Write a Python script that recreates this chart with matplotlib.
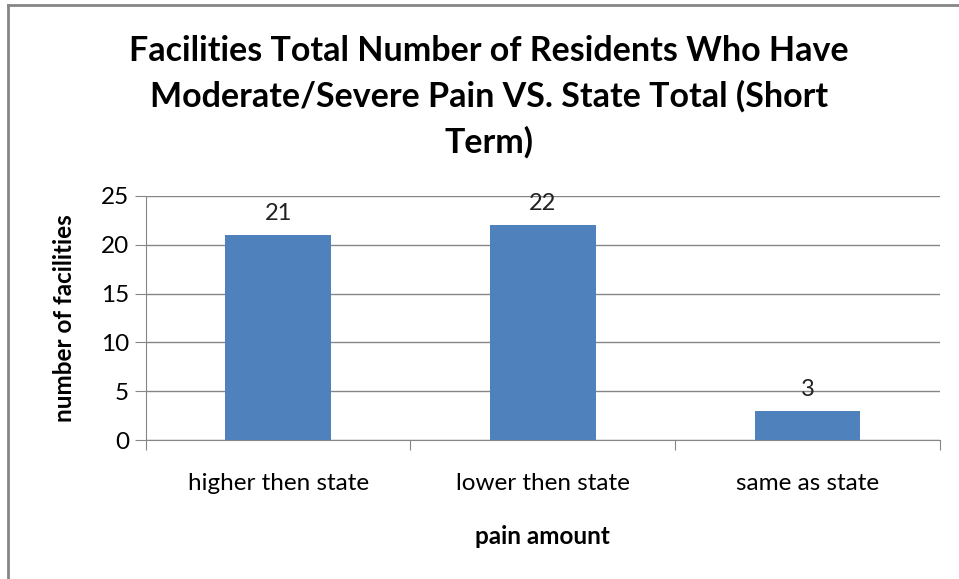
import matplotlib.pyplot as plt
from matplotlib.lines import Line2D

plt.rcParams['font.family'] = ['Lato', 'DejaVu Sans']

categories = ['higher then state', 'lower then state', 'same as state']
counts = [21, 22, 3]
yticks = [0, 5, 10, 15, 20, 25]

fig = plt.figure(figsize=(9.59, 5.79), dpi=100)
ax = fig.add_axes([0.152, 0.240, 0.828, 0.4215])

x = range(len(categories))
ax.bar(x, counts, width=0.4, color='#4F81BD', zorder=3)

# data labels above each bar
for i, v in enumerate(counts):
    ax.annotate(str(v), (i, v), xytext=(0, 8), textcoords='offset points',
                ha='center', va='bottom', fontsize=17, color='#222222')

ax.set_xlim(-0.5, 2.5)
ax.set_ylim(0, 25)
ax.set_yticks(yticks)
ax.yaxis.grid(True, color='#868686', linewidth=1, zorder=0)

ax.set_xticks([-0.5, 0.5, 1.5, 2.5])
ax.set_xticklabels([])
ax.set_xticks(list(x), minor=True)
ax.set_xticklabels(categories, minor=True, fontsize=17.5)
ax.tick_params(axis='x', which='minor', length=0, pad=24)
ax.tick_params(axis='x', which='major', length=7, color='#868686')
ax.tick_params(axis='y', length=8, color='#868686', labelsize=17.5, pad=4)

for s in ['top', 'right']:
    ax.spines[s].set_visible(False)
for s in ['left', 'bottom']:
    ax.spines[s].set_color('#868686')

ax.set_xlabel('pain amount', fontsize=17.5, fontweight='bold', labelpad=22)
ax.set_ylabel('number of facilities', fontsize=17.5, fontweight='bold', labelpad=18)

fig.text(0.51, 0.833, 'Facilities Total Number of Residents Who Have\n'
         'Moderate/Severe Pain VS. State Total (Short\nTerm)',
         ha='center', va='center', fontsize=24.5, fontweight='bold',
         linespacing=1.5)

# chart border (left and top visible)
fig.add_artist(Line2D([0.0085, 0.0085], [0, 0.991], color='#868686', linewidth=2,
                      transform=fig.transFigure))
fig.add_artist(Line2D([0.0085, 1.0], [0.991, 0.991], color='#868686', linewidth=2,
                      transform=fig.transFigure))

fig.savefig('out.png', dpi=100)
